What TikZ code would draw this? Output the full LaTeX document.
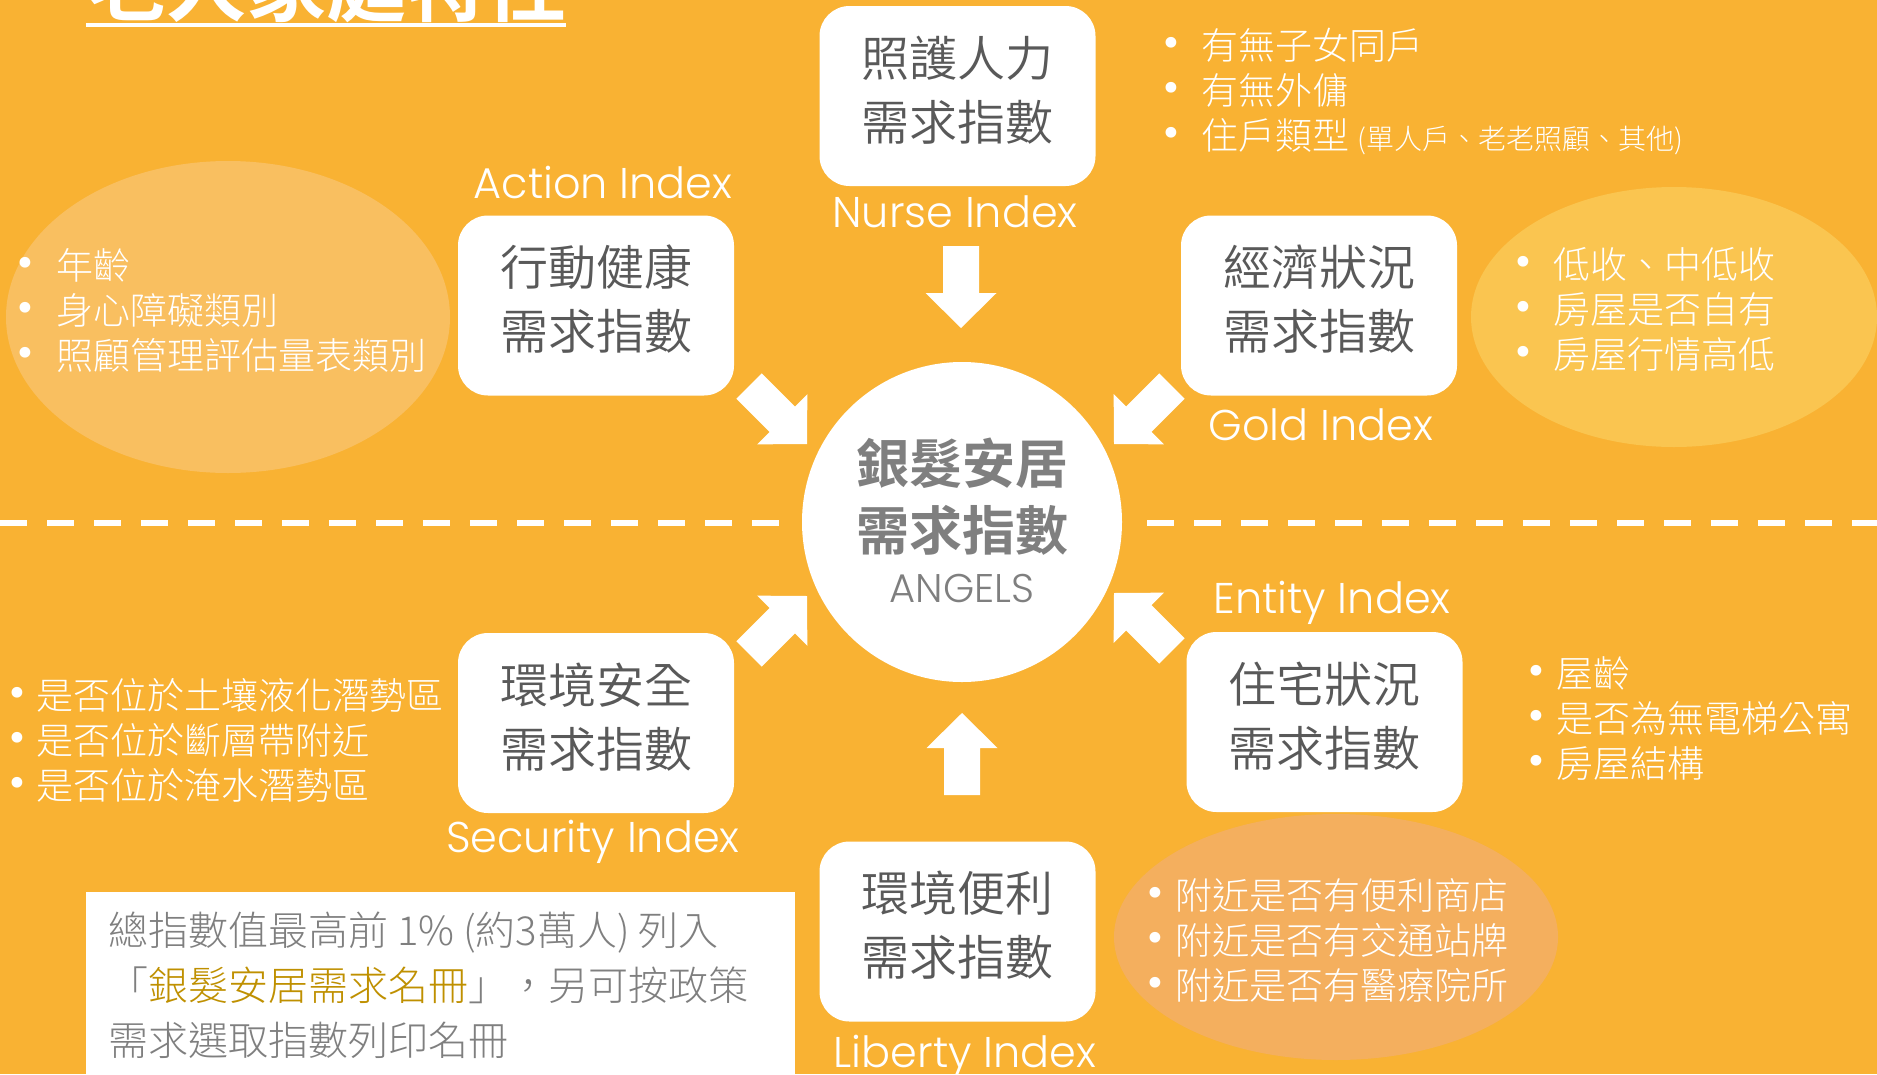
\documentclass[tikz,border=0pt]{standalone}
\usepackage{fontspec}
\newfontfamily\cjk{Noto Sans CJK TC}
\newfontfamily\cjkl{Noto Sans CJK TC Light}
\newfontfamily\cjkd{Noto Sans CJK TC DemiLight}
\newfontfamily\cjkb{Noto Sans CJK TC Bold}
\newfontfamily\latinl{Poppins Light}
\newfontfamily\dejavu{DejaVu Sans}
\definecolor{bg}{HTML}{F9B233}
\definecolor{ellA}{HTML}{F9BF60}
\definecolor{ellB}{HTML}{FAC550}
\definecolor{ellC}{HTML}{F4AF5E}
\definecolor{boxtext}{HTML}{595959}
\definecolor{ctext}{HTML}{7F7F7F}
\definecolor{hl}{HTML}{BF9000}
\newcommand\bul[1]{\makebox[0pt]{\raisebox{3pt}{\dejavu •}}\hspace{#1}}
\newcommand\dn{\rule[-16pt]{0pt}{1pt}}
\newcommand\blockarrow[3]{\fill[white, shift={(#1,#2)}, rotate=#3] (0,0) -- (-35,35.5) -- (-35,18) -- (-82,18) -- (-82,-18) -- (-35,-18) -- (-35,-35.5) -- cycle;}
\tikzset{
  idxbox/.style={fill=white, rounded corners=30pt, minimum width=276pt, minimum height=180pt, inner sep=0pt, text=boxtext, align=center, font=\cjkd\fontsize{48}{64}\selectfont},
  idxlabel/.style={anchor=base, inner sep=0pt, text=white, font=\latinl\fontsize{43}{43}\selectfont},
  blist/.style={anchor=west, inner sep=0pt, text=white, align=left, font=\cjkl\fontsize{37}{45}\selectfont},
  dashline/.style={white, line width=6pt, dash pattern=on 27pt off 20pt}
}
\begin{document}
\begin{tikzpicture}[x=1pt, y=-1pt]
\useasboundingbox (0,0) rectangle (1877,1074);
\fill[bg] (0,0) rectangle (1877,1074);

% title (cut off at top)
\node[anchor=base, inner sep=0pt, text=white, font=\cjkb\fontsize{80}{80}\selectfont] (title) at (326,15) {老人家庭特性};
\draw[white, line width=4pt] (86,25) -- (566,25);

% soft ellipses
\fill[ellA] (228,317) ellipse [x radius=222, y radius=156];
\fill[ellB] (1674,317) ellipse [x radius=203, y radius=130];
\fill[ellC] (1336,937) ellipse [x radius=222, y radius=123];

% dashed divider
\draw[dashline] (0,523) -- (790,523);
\draw[dashline] (1147,523) -- (1877,523);

% centre circle
\node[circle, fill=white, minimum size=320pt, inner sep=0pt] (c) at (962,522) {};
\node[inner sep=0pt, text=ctext, font=\cjkb\fontsize{53}{53}\selectfont] (c1) at (962,463) {銀髮安居};
\node[inner sep=0pt, text=ctext, font=\cjkb\fontsize{53}{53}\selectfont] (c2) at (962,530) {需求指數};
\node[anchor=base, inner sep=0pt, text=ctext, font=\latinl\fontsize{40}{40}\selectfont] (c3) at (962,602) {ANGELS};

% index boxes
\node[idxbox] (nurse) at (957.5,96) {照護人力\\需求指數\dn};
\node[idxbox] (action) at (596,305.5) {行動健康\\需求指數\dn};
\node[idxbox] (gold) at (1319,305.5) {經濟狀況\\需求指數\dn};
\node[idxbox] (security) at (596,723) {環境安全\\需求指數\dn};
\node[idxbox] (entity) at (1324.5,722) {住宅狀況\\需求指數\dn};
\node[idxbox] (liberty) at (957.5,931.5) {環境便利\\需求指數\dn};

% labels
\node[idxlabel] (nurseL) at (955,227) {Nurse Index};
\node[idxlabel] (actionL) at (603,198) {Action Index};
\node[idxlabel] (goldL) at (1321,440) {Gold Index};
\node[idxlabel] (entityL) at (1332,613) {Entity Index};
\node[idxlabel] (securityL) at (593,852) {Security Index};
\node[idxlabel] (libertyL) at (965,1067) {Liberty Index};

% block arrows toward centre
\blockarrow{961}{328}{-90}
\blockarrow{807}{444}{-45}
\blockarrow{1114}{444}{-135}
\blockarrow{807}{596}{45}
\blockarrow{1114}{593}{135}
\blockarrow{962}{713}{90}

% bullet lists
\node[blist] (actionB) at (25,310) {\bul{31pt}年齡\\\bul{31pt}身心障礙類別\\\bul{31pt}照顧管理評估量表類別};
\node[blist] (nurseB) at (1171,92) {\bul{30pt}有無子女同戶\\\bul{30pt}有無外傭\\\bul{30pt}住戶類型 {\fontsize{28}{45}\selectfont (單人戶、老老照顧、其他)}};
\node[blist] (goldB) at (1523,310) {\bul{30pt}低收、中低收\\\bul{30pt}房屋是否自有\\\bul{30pt}房屋行情高低};
\node[blist] (securityB) at (17,740) {\bul{19pt}是否位於土壤液化潛勢區\\\bul{19pt}是否位於斷層帶附近\\\bul{19pt}是否位於淹水潛勢區};
\node[blist] (entityB) at (1536,718) {\bul{20pt}屋齡\\\bul{20pt}是否為無電梯公寓\\\bul{20pt}房屋結構};
\node[blist] (libertyB) at (1155,940) {\bul{20pt}附近是否有便利商店\\\bul{20pt}附近是否有交通站牌\\\bul{20pt}附近是否有醫療院所};

% note box
\node[fill=white, anchor=north west, minimum width=709pt, minimum height=190pt, inner sep=0pt] (note) at (86,892) {};
\node[anchor=west, inner sep=0pt, text=ctext, align=left, font=\cjkl\fontsize{40}{55}\selectfont] (noteT) at (108,985) {總指數值最高前 1\% (約3萬人) 列入\\「{\color{hl}銀髮安居需求名冊}」，另可按政策\\需求選取指數列印名冊};
\end{tikzpicture}
\end{document}
